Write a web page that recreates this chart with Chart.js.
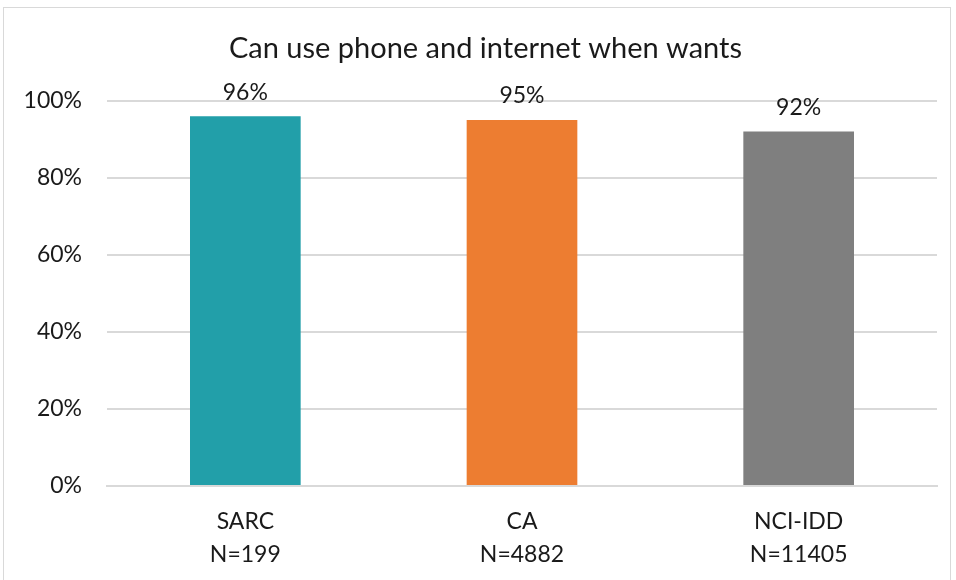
<!DOCTYPE html>
<html>
<head>
<meta charset="utf-8">
<script src="https://cdn.jsdelivr.net/npm/chart.js@4"></script>
<style>
  html, body { margin: 0; padding: 0; background: #fff; }
  #wrap { position: relative; width: 956px; height: 580px; }
  #frame { position: absolute; left: 3px; top: 7px; width: 948px; height: 580px; border: 1px solid #d9d9d9; box-sizing: border-box; }
  canvas { position: absolute; left: 0; top: 0; }
</style>
</head>
<body>
<div id="wrap">
  <div id="frame"></div>
  <canvas id="chart" width="956" height="580"></canvas>
</div>
<script>
const chartTitle = "Can use phone and internet when wants";
const categories = [["SARC", "N=199"], ["CA", "N=4882"], ["NCI-IDD", "N=11405"]];
const percentages = [96, 95, 92];
const barColors = ["#229FA9", "#ED7D31", "#7F7F7F"];
const yTicks = [0, 20, 40, 60, 80, 100];

const fontFamily = "Lato, 'Open Sans', sans-serif";

// étiquettes de valeur au-dessus des barres
const valueLabels = {
    id: "valueLabels",
    afterLayout(chart) {
        // laisse les libellés de l'axe Y déborder dans la marge gauche
        chart.scales.y.left = 0;
    },
    afterDatasetsDraw(chart) {
        const ctx = chart.ctx;
        const meta = chart.getDatasetMeta(0);
        ctx.save();
        ctx.font = "23px " + fontFamily;
        ctx.fillStyle = "#1a1a1a";
        ctx.textAlign = "center";
        ctx.textBaseline = "middle";
        meta.data.forEach((bar, i) => {
            ctx.fillText(percentages[i] + "%", bar.x, bar.y - 24);
        });
        ctx.restore();
    }
};

document.addEventListener("DOMContentLoaded", () => {
    const ctx = document.getElementById("chart").getContext("2d");
    new Chart(ctx, {
        type: "bar",
        data: {
            labels: categories,
            datasets: [{
                data: percentages,
                backgroundColor: barColors,
                categoryPercentage: 1,
                barPercentage: 0.4
            }]
        },
        options: {
            responsive: false,
            animation: false,
            layout: { padding: { top: 31, right: 19, bottom: 0, left: 34 } },
            plugins: {
                legend: { display: false },
                tooltip: { enabled: false },
                title: {
                    display: true,
                    text: chartTitle,
                    color: "#1a1a1a",
                    font: { family: fontFamily, size: 29, weight: "normal" },
                    padding: { top: 0, bottom: 35 }
                }
            },
            scales: {
                y: {
                    min: 0,
                    max: 100,
                    afterBuildTicks: axis => { axis.ticks = yTicks.map(v => ({ value: v })); },
                    afterFit: axis => { axis.width = 73; },
                    ticks: {
                        callback: v => v + "%",
                        color: "#1a1a1a",
                        padding: 25,
                        font: { family: fontFamily, size: 23 }
                    },
                    grid: { color: "#d9d9d9", lineWidth: 2, drawTicks: false },
                    border: { display: false }
                },
                x: {
                    afterFit: axis => { axis.height = 94; },
                    ticks: {
                        color: "#1a1a1a",
                        padding: 19,
                        font: { family: fontFamily, size: 23, lineHeight: 1.45 }
                    },
                    grid: { display: false, drawTicks: false },
                    border: { color: "#d9d9d9", width: 2 }
                }
            }
        },
        plugins: [valueLabels]
    });
});
</script>
</body>
</html>
